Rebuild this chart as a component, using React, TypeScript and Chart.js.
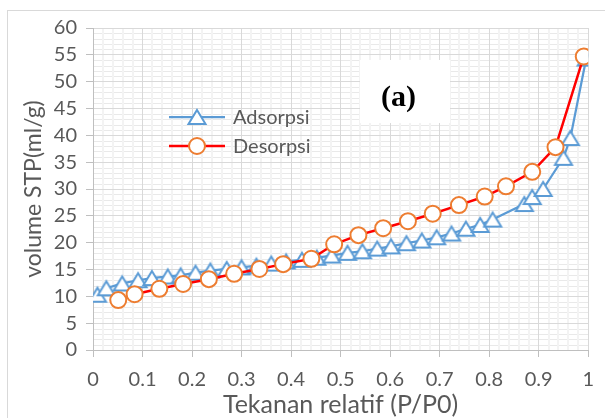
import React, { useEffect, useRef } from 'react';
import { Chart, registerables } from 'chart.js';

Chart.register(...registerables);

// ---- data ----
const adsX = [0.009, 0.027, 0.059, 0.091, 0.119, 0.151, 0.177, 0.207, 0.237, 0.27, 0.3, 0.33, 0.36, 0.39, 0.422, 0.452, 0.482, 0.514, 0.544, 0.574, 0.602, 0.633, 0.664, 0.694, 0.724, 0.753, 0.782, 0.807, 0.871, 0.887, 0.909, 0.95, 0.964, 0.996];
const adsY = [10.3, 11.5, 12.4, 13.0, 13.4, 13.7, 13.9, 14.4, 14.8, 15.1, 15.4, 15.7, 16.1, 16.5, 16.8, 17.2, 17.6, 18.1, 18.4, 18.9, 19.3, 19.9, 20.4, 21.0, 21.7, 22.6, 23.3, 24.3, 27.2, 28.5, 30.0, 35.8, 39.5, 54.3];
const desX = [0.051, 0.084, 0.134, 0.182, 0.234, 0.285, 0.336, 0.384, 0.441, 0.487, 0.536, 0.586, 0.636, 0.686, 0.739, 0.791, 0.834, 0.887, 0.934, 0.991];
const desY = [9.3, 10.4, 11.4, 12.3, 13.2, 14.2, 15.1, 16.0, 17.0, 19.7, 21.4, 22.7, 24.0, 25.4, 27.0, 28.6, 30.5, 33.2, 37.8, 54.7];
const xTickLabels = ['0', '0.1', '0.2', '0.3', '0.4', '0.5', '0.6', '0.7', '0.8', '0.9', '1'];
const yTickLabels = ['0', '5', '10', '15', '20', '25', '30', '35', '40', '45', '50', '55', '60'];
const seriesNames = ['Adsorpsi', 'Desorpsi'];
const xTitle = 'Tekanan relatif (P/P0)';
const yTitle = 'volume STP(ml/g)';
const panelLabel = '(a)';

const BLUE = '#5b9bd5';
const RED = '#ff0000';
const ORANGE = '#ed7d31';
const TEXT = '#595959';
const FONT = 'Lato';

function makeTriangle(): HTMLCanvasElement {
  const c = document.createElement('canvas');
  c.width = 22;
  c.height = 20;
  const ctx = c.getContext('2d')!;
  ctx.beginPath();
  ctx.moveTo(11, 3);
  ctx.lineTo(19.5, 17);
  ctx.lineTo(2.5, 17);
  ctx.closePath();
  ctx.fillStyle = '#ffffff';
  ctx.fill();
  ctx.lineWidth = 2;
  ctx.strokeStyle = BLUE;
  ctx.stroke();
  return c;
}

export default function App() {
  const ref = useRef<HTMLCanvasElement | null>(null);

  useEffect(() => {
    let chart: Chart | null = null;
    let cancelled = false;
    const tri = makeTriangle();

    const backgroundPlugin = {
      id: 'bgMinor',
      beforeDraw(c: any) {
        const ctx = c.ctx;
        const xs = c.scales.x;
        const ys = c.scales.y;
        const a = c.chartArea;
        ctx.save();
        ctx.fillStyle = '#ffffff';
        ctx.fillRect(0, 0, c.width, c.height);
        // outer chart border
        ctx.strokeStyle = '#d9d9d9';
        ctx.lineWidth = 1;
        ctx.strokeRect(7.5, 10.5, 800, 600);
        // minor horizontal grid (every 1 unit)
        ctx.strokeStyle = '#e9e9e9';
        ctx.lineWidth = 1;
        for (let v = 1; v < 60; v++) {
          if (v % 5 === 0) continue;
          const y = Math.round(ys.getPixelForValue(v)) + 0.5;
          ctx.beginPath();
          ctx.moveTo(a.left, y);
          ctx.lineTo(a.right, y);
          ctx.stroke();
        }
        // minor vertical grid (every 0.02)
        ctx.strokeStyle = '#f3f3f3';
        ctx.lineWidth = 2;
        for (let k = 1; k < 50; k++) {
          if (k % 5 === 0) continue;
          const x = Math.round(xs.getPixelForValue(k * 0.02));
          ctx.beginPath();
          ctx.moveTo(x, a.top);
          ctx.lineTo(x, a.bottom);
          ctx.stroke();
        }
        ctx.restore();
      },
    };

    const overlayPlugin = {
      id: 'overlay',
      afterDatasetsDraw(c: any) {
        const ctx = c.ctx;
        ctx.save();
        // panel label box
        ctx.fillStyle = '#ffffff';
        ctx.fillRect(360, 60, 90, 63);
        ctx.fillStyle = '#000000';
        ctx.font = `bold 30px "Liberation Serif"`;
        ctx.textAlign = 'center';
        ctx.textBaseline = 'middle';
        ctx.fillText(panelLabel, 398.5, 98);

        // legend
        const rows = [117, 146];
        const lx0 = 169;
        const lx1 = 225;
        const mx = 197;
        ctx.strokeStyle = BLUE;
        ctx.lineWidth = 2.25;
        ctx.beginPath();
        ctx.moveTo(lx0, rows[0]);
        ctx.lineTo(lx1, rows[0]);
        ctx.stroke();
        ctx.drawImage(tri, mx - tri.width / 2, rows[0] - tri.height / 2);
        ctx.strokeStyle = RED;
        ctx.lineWidth = 2.5;
        ctx.beginPath();
        ctx.moveTo(lx0, rows[1]);
        ctx.lineTo(lx1, rows[1]);
        ctx.stroke();
        ctx.beginPath();
        ctx.arc(mx, rows[1], 8, 0, Math.PI * 2);
        ctx.fillStyle = '#ffffff';
        ctx.fill();
        ctx.strokeStyle = ORANGE;
        ctx.lineWidth = 2;
        ctx.stroke();
        ctx.fillStyle = TEXT;
        ctx.font = `20px ${FONT}`;
        ctx.textAlign = 'left';
        ctx.textBaseline = 'alphabetic';
        ctx.fillText(seriesNames[0], 233, rows[0] + 7);
        ctx.fillText(seriesNames[1], 233, rows[1] + 7);
        ctx.restore();
      },
    };

    const build = () => {
      if (cancelled || !ref.current) return;
      chart = new Chart(ref.current, {
        type: 'scatter',
        data: {
          datasets: [
            {
              label: seriesNames[0],
              data: adsX.map((x, i) => ({ x, y: adsY[i] })),
              showLine: true,
              borderColor: BLUE,
              backgroundColor: '#ffffff',
              borderWidth: 2.25,
              pointStyle: tri as any,
              pointRadius: 8,
              pointHoverRadius: 8,
              order: 2,
            },
            {
              label: seriesNames[1],
              data: desX.map((x, i) => ({ x, y: desY[i] })),
              showLine: true,
              borderColor: RED,
              backgroundColor: '#ffffff',
              borderWidth: 2.5,
              pointStyle: 'circle',
              pointRadius: 8,
              pointHoverRadius: 8,
              pointBorderWidth: 2,
              pointBorderColor: ORANGE,
              pointBackgroundColor: '#ffffff',
              order: 1,
            },
          ],
        },
        options: {
          animation: false,
          responsive: false,
          devicePixelRatio: 1,
          layout: { padding: { left: 0, right: 12, top: 28, bottom: 0 } },
          plugins: {
            legend: { display: false },
            tooltip: { enabled: false },
          },
          scales: {
            x: {
              type: 'linear',
              min: 0,
              max: 1,
              afterFit: (s: any) => {
                s.height = 68;
              },
              ticks: {
                stepSize: 0.1,
                autoSkip: false,
                maxRotation: 0,
                color: TEXT,
                font: { family: FONT, size: 20 },
                padding: 11,
                callback: (_v: any, i: number) => xTickLabels[i],
              },
              grid: { color: '#d9d9d9', tickColor: '#bfbfbf', tickLength: 7, lineWidth: 1 },
              border: { color: '#bfbfbf', width: 1 },
              title: {
                display: true,
                text: xTitle,
                color: TEXT,
                font: { family: FONT, size: 25 },
                padding: { top: 0, bottom: -2 },
              },
            },
            y: {
              type: 'linear',
              min: 0,
              max: 60,
              afterFit: (s: any) => {
                s.width = 93;
              },
              ticks: {
                stepSize: 5,
                autoSkip: false,
                color: TEXT,
                font: { family: FONT, size: 20 },
                padding: 9,
                callback: (_v: any, i: number) => yTickLabels[i],
              },
              grid: { color: '#d9d9d9', tickColor: '#bfbfbf', tickLength: 7, lineWidth: 1 },
              border: { color: '#bfbfbf', width: 1 },
              title: {
                display: true,
                text: yTitle,
                color: TEXT,
                font: { family: FONT, size: 23 },
                padding: { top: 20, bottom: 0 },
              },
            },
          },
        },
        plugins: [backgroundPlugin, overlayPlugin],
      } as any);
    };

    const fontsReady = (document as any).fonts
      ? Promise.all([
          (document as any).fonts.load(`20px ${FONT}`),
          (document as any).fonts.load(`bold 30px "Liberation Serif"`),
        ]).catch(() => null)
      : Promise.resolve(null);
    fontsReady.then(build);

    return () => {
      cancelled = true;
      if (chart) chart.destroy();
    };
  }, []);

  return (
    <div style={{ position: 'absolute', left: 0, top: 0, width: 605, height: 418, overflow: 'hidden', background: '#fff' }}>
      <canvas ref={ref} width={605} height={418} style={{ display: 'block', width: 605, height: 418 }} />
    </div>
  );
}
